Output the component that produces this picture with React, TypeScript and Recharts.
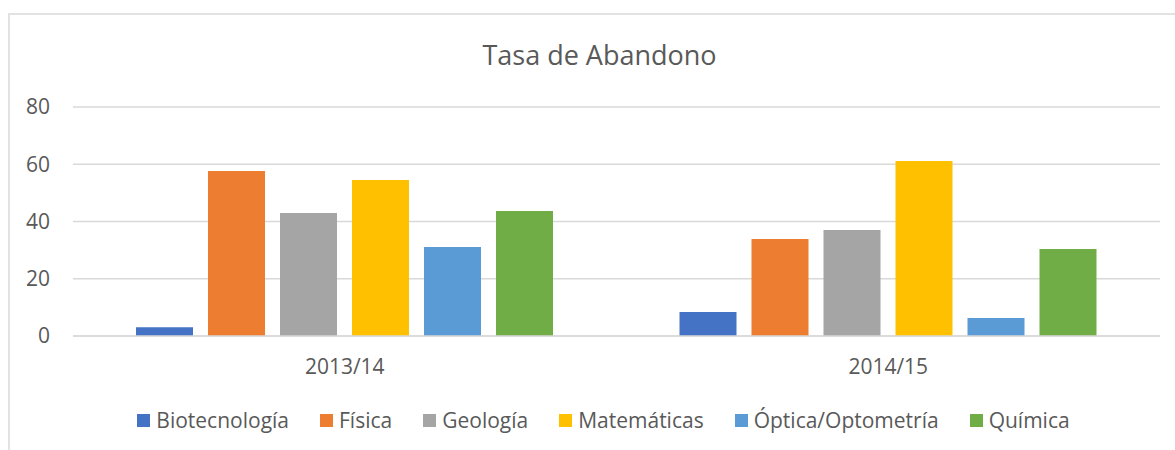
import { BarChart, Bar, XAxis, YAxis, CartesianGrid, Legend } from "recharts";

const FONT = "'Open Sans', Lato, sans-serif";
const TEXT = "#595959";
const GRID = "#D9D9D9";

const years = ["2013/14", "2014/15"];
const biotecnologia = [3.1, 8.4];
const fisica = [57.6, 33.9];
const geologia = [43.0, 37.0];
const matematicas = [54.5, 61.1];
const optica = [31.1, 6.3];
const quimica = [43.7, 30.4];
const yTicks = [0, 20, 40, 60, 80];

const series = [
  { key: "Biotecnología", values: biotecnologia, color: "#4472C4" },
  { key: "Física", values: fisica, color: "#ED7D31" },
  { key: "Geología", values: geologia, color: "#A5A5A5" },
  { key: "Matemáticas", values: matematicas, color: "#FFC000" },
  { key: "Óptica/Optometría", values: optica, color: "#5B9BD5" },
  { key: "Química", values: quimica, color: "#70AD47" },
];

const data = years.map((y, i) => {
  const row: Record<string, string | number> = { year: y };
  series.forEach(s => { row[s.key] = s.values[i]; });
  return row;
});

function LegendBox() {
  return (
    <div style={{ display: "flex", justifyContent: "center", fontFamily: FONT, fontSize: 21, lineHeight: "30px", color: TEXT }}>
      {series.map((s, i) => (
        <div key={s.key} style={{ display: "flex", alignItems: "center", marginRight: i < series.length - 1 ? 31 : 0 }}>
          <span style={{ width: 13, height: 13, background: s.color, marginRight: 6, display: "inline-block" }} />
          <span>{s.key}</span>
        </div>
      ))}
    </div>
  );
}

export default function App() {
  return (
    <div style={{ position: "absolute", left: 0, top: 0, width: 1175, height: 450, overflow: "hidden", background: "#fff" }}>
      <div style={{ position: "absolute", left: 8, top: 13, width: 1220, height: 500, border: "2px solid #E2E2E2" }} />
      <div style={{ position: "absolute", left: 0, top: 41, width: 1199, textAlign: "center", fontFamily: FONT, fontSize: 27, lineHeight: "27px", color: TEXT }}>
        Tasa de Abandono
      </div>
      <div style={{ position: "absolute", left: 0, top: 0 }}>
        <BarChart width={1175} height={450} data={data} margin={{ top: 107, right: 15, bottom: 74, left: 0 }}
          barCategoryGap={63} barGap={15}>
          <CartesianGrid vertical={false} stroke={GRID} strokeWidth={1.5} />
          <XAxis dataKey="year" height={40} tickLine={false} axisLine={{ stroke: GRID, strokeWidth: 1.5 }}
            tickSize={0} tickMargin={23} tick={{ fill: TEXT, fontSize: 21, fontFamily: FONT }} />
          <YAxis width={73} domain={[0, 80]} ticks={yTicks} axisLine={false} tickLine={false}
            tickSize={0} tickMargin={23} tick={{ fill: TEXT, fontSize: 21, fontFamily: FONT }} />
          <Legend verticalAlign="middle" layout="horizontal" content={() => <LegendBox />}
            wrapperStyle={{ top: 405, left: 16, width: 1175, height: 30 }} />
          {series.map(s => (
            <Bar key={s.key} dataKey={s.key} fill={s.color} isAnimationActive={false} />
          ))}
        </BarChart>
      </div>
    </div>
  );
}
